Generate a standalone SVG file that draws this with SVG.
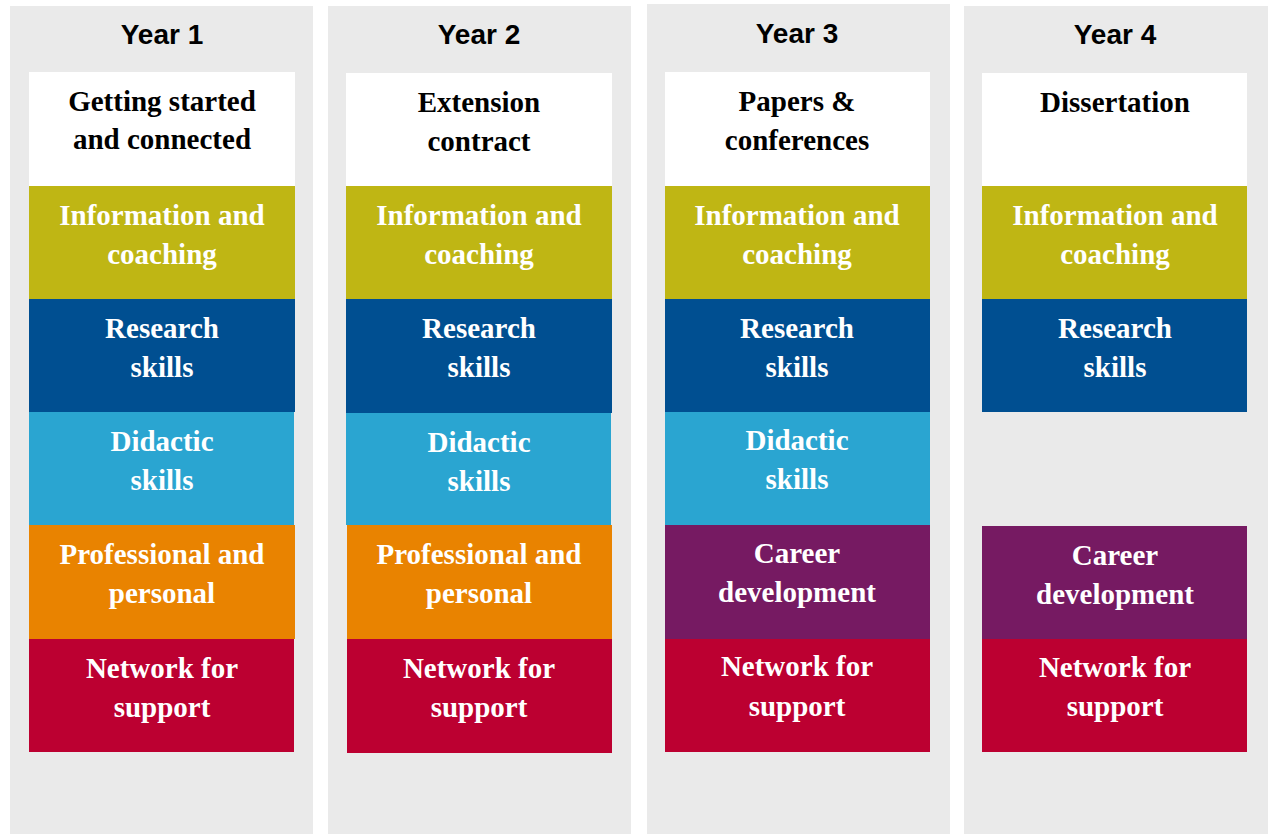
<svg xmlns="http://www.w3.org/2000/svg" width="1272" height="834" viewBox="0 0 1272 834">
<style>
.col{fill:#eaeaea}
.yr{font-family:"Liberation Sans",Arial,sans-serif;font-weight:bold;font-size:28px;fill:#000;text-anchor:middle}
.t{font-family:"Liberation Serif","Times New Roman",serif;font-weight:bold;font-size:29px;text-anchor:middle}
.d{fill:#000}
.w{fill:#fff}
.wh{fill:#ffffff}
.ol{fill:#bfb614}
.nv{fill:#004f91}
.cy{fill:#2aa5d1}
.or{fill:#e98300}
.pu{fill:#761a62}
.rd{fill:#bc0031}
</style>
<rect width="1272" height="834" fill="#ffffff"/>
<g id="year1">
<rect class="col" x="10" y="6" width="303" height="828"/>
<text class="yr" x="162" y="44">Year 1</text>
<g id="y1-start"><rect class="wh" x="29" y="72" width="266" height="114"/><text class="t d" x="162" y="111">Getting started</text><text class="t d" x="162" y="149">and connected</text></g>
<g id="y1-info"><rect class="ol" x="29" y="186" width="266" height="113"/><text class="t w" x="162" y="225">Information and</text><text class="t w" x="162" y="264">coaching</text></g>
<g id="y1-research"><rect class="nv" x="29" y="299" width="266" height="113"/><text class="t w" x="162" y="338">Research</text><text class="t w" x="162" y="377">skills</text></g>
<g id="y1-didactic"><rect class="cy" x="29" y="412" width="265" height="113"/><text class="t w" x="162" y="451">Didactic</text><text class="t w" x="162" y="490">skills</text></g>
<g id="y1-prof"><rect class="or" x="29" y="525" width="266" height="114"/><text class="t w" x="162" y="564">Professional and</text><text class="t w" x="162" y="603">personal</text></g>
<g id="y1-network"><rect class="rd" x="29" y="639" width="265" height="113"/><text class="t w" x="162" y="678">Network for</text><text class="t w" x="162" y="717">support</text></g>
</g>
<g id="year2">
<rect class="col" x="328" y="6" width="303" height="828"/>
<text class="yr" x="479" y="44">Year 2</text>
<g id="y2-ext"><rect class="wh" x="346" y="73" width="266" height="113"/><text class="t d" x="479" y="112">Extension</text><text class="t d" x="479" y="151">contract</text></g>
<g id="y2-info"><rect class="ol" x="346" y="186" width="266" height="113"/><text class="t w" x="479" y="225">Information and</text><text class="t w" x="479" y="264">coaching</text></g>
<g id="y2-research"><rect class="nv" x="346" y="299" width="266" height="114"/><text class="t w" x="479" y="338">Research</text><text class="t w" x="479" y="377">skills</text></g>
<g id="y2-didactic"><rect class="cy" x="346" y="413" width="265" height="112"/><text class="t w" x="479" y="452">Didactic</text><text class="t w" x="479" y="491">skills</text></g>
<g id="y2-prof"><rect class="or" x="347" y="525" width="265" height="114"/><text class="t w" x="479" y="564">Professional and</text><text class="t w" x="479" y="603">personal</text></g>
<g id="y2-network"><rect class="rd" x="347" y="639" width="265" height="114"/><text class="t w" x="479" y="678">Network for</text><text class="t w" x="479" y="717">support</text></g>
</g>
<g id="year3">
<rect class="col" x="647" y="4" width="303" height="830"/>
<text class="yr" x="797" y="43">Year 3</text>
<g id="y3-papers"><rect class="wh" x="665" y="72" width="265" height="114"/><text class="t d" x="797" y="111">Papers &amp;</text><text class="t d" x="797" y="150">conferences</text></g>
<g id="y3-info"><rect class="ol" x="665" y="186" width="265" height="113"/><text class="t w" x="797" y="225">Information and</text><text class="t w" x="797" y="264">coaching</text></g>
<g id="y3-research"><rect class="nv" x="665" y="299" width="265" height="113"/><text class="t w" x="797" y="338">Research</text><text class="t w" x="797" y="377">skills</text></g>
<g id="y3-didactic"><rect class="cy" x="665" y="412" width="265" height="113"/><text class="t w" x="797" y="450">Didactic</text><text class="t w" x="797" y="489">skills</text></g>
<g id="y3-career"><rect class="pu" x="665" y="525" width="265" height="114"/><text class="t w" x="797" y="563">Career</text><text class="t w" x="797" y="602">development</text></g>
<g id="y3-network"><rect class="rd" x="665" y="639" width="265" height="113"/><text class="t w" x="797" y="676">Network for</text><text class="t w" x="797" y="716">support</text></g>
</g>
<g id="year4">
<rect class="col" x="964" y="6" width="304" height="828"/>
<text class="yr" x="1115" y="44">Year 4</text>
<g id="y4-diss"><rect class="wh" x="982" y="73" width="265" height="113"/><text class="t d" x="1115" y="112">Dissertation</text></g>
<g id="y4-info"><rect class="ol" x="982" y="186" width="265" height="113"/><text class="t w" x="1115" y="225">Information and</text><text class="t w" x="1115" y="264">coaching</text></g>
<g id="y4-research"><rect class="nv" x="982" y="299" width="265" height="113"/><text class="t w" x="1115" y="338">Research</text><text class="t w" x="1115" y="377">skills</text></g>
<g id="y4-career"><rect class="pu" x="982" y="526" width="265" height="113"/><text class="t w" x="1115" y="565">Career</text><text class="t w" x="1115" y="604">development</text></g>
<g id="y4-network"><rect class="rd" x="982" y="639" width="265" height="113"/><text class="t w" x="1115" y="677">Network for</text><text class="t w" x="1115" y="716">support</text></g>
</g>
<g id="connectors"></g>
</svg>
